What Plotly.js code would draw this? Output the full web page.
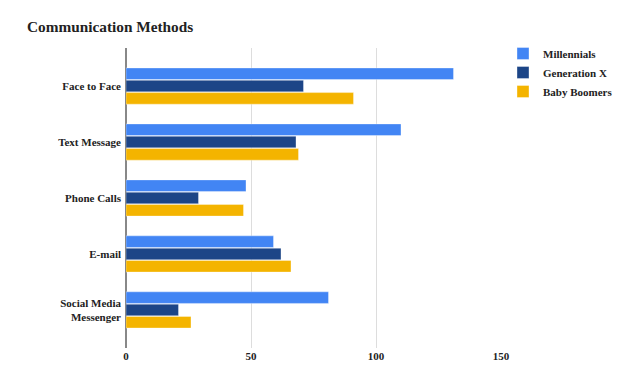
<!DOCTYPE html>
<html>
<head>
<meta charset="utf-8">
<script src="https://cdn.plot.ly/plotly-3.0.1.min.js"></script>
<style>html,body{margin:0;padding:0;background:#fff;}#chart{width:624px;height:377px;}</style>
</head>
<body>
<div id="chart"></div>
<script>
const categories = ["Face to Face", "Text Message", "Phone Calls", "E-mail", "Social Media<br>Messenger"];
const seriesNames = ["Millennials", "Generation X", "Baby Boomers"];
const millennials = [131, 110, 48, 59, 81];
const generationX = [71, 68, 29, 62, 21];
const babyBoomers = [91, 69, 47, 66, 26];
const xTickValues = [0, 50, 100, 150];
const colors = ["#4285F4", "#1C4587", "#F4B400"];

const font = {family: "Liberation Serif, Times New Roman, serif", size: 11, color: "#222222", weight: "bold"};
const values = [millennials, generationX, babyBoomers];
const traces = values.map((v, i) => ({
  type: "bar",
  orientation: "h",
  name: seriesNames[i],
  y: categories,
  x: v,
  marker: {color: colors[i], line: {color: "rgba(255,255,255,0.35)", width: 1}},
  hoverinfo: "x+name"
}));

const layout = {
  width: 624, height: 377,
  margin: {l: 126, r: 123, t: 48, b: 29, pad: 0},
  paper_bgcolor: "#ffffff", plot_bgcolor: "#ffffff",
  barmode: "group", bargap: 0.34, bargroupgap: 0.06,
  title: {text: "Communication Methods", x: 27/624, xanchor: "left", xref: "container", y: 1 - 27/377, yref: "container", yanchor: "middle",
          font: {family: "Liberation Serif, Times New Roman, serif", size: 15.3, color: "#222222", weight: "bold"}},
  xaxis: {range: [0, 150], tickvals: xTickValues, ticktext: xTickValues.map(String), showgrid: true, gridcolor: "#dddddd", gridwidth: 1,
          zeroline: true, zerolinecolor: "#888888", zerolinewidth: 1.5, showline: false, ticks: "", tickfont: font, fixedrange: true},
  yaxis: {type: "category", range: [4.68, -0.68], showgrid: false, zeroline: false, showline: false, ticks: "", ticklabelstandoff: 4, tickfont: font, fixedrange: true},
  legend: {x: 503/624, xref: "container", xanchor: "left", y: 1 - 39/377, yref: "container", yanchor: "top", font: font, bgcolor: "rgba(0,0,0,0)", tracegroupgap: 0},
  showlegend: true
};
Plotly.newPlot("chart", traces, layout, {displayModeBar: false, staticPlot: true});
</script>
</body>
</html>
